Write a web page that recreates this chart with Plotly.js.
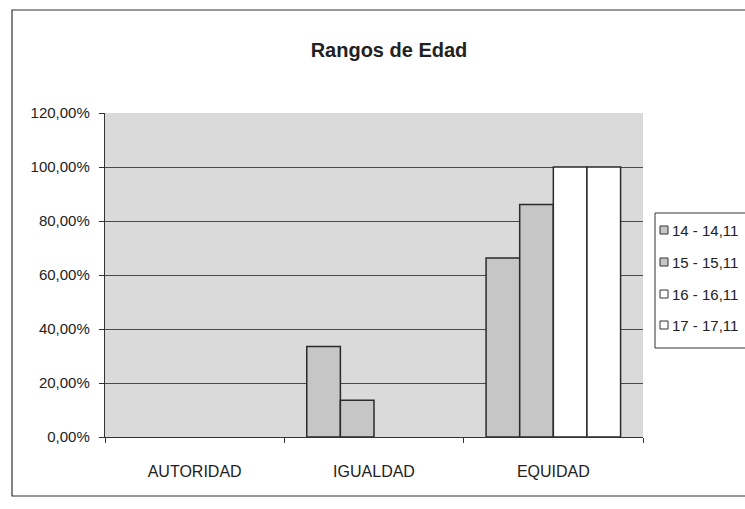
<!DOCTYPE html>
<html>
<head>
<meta charset="utf-8">
<script src="https://cdn.plot.ly/plotly-3.0.1.min.js"></script>
<style>html,body{margin:0;padding:0;background:#fff;}#chart{width:745px;height:509px;}</style>
</head>
<body>
<div id="chart"></div>
<script>
// ---- data ----
var categories = ["AUTORIDAD", "IGUALDAD", "EQUIDAD"];
var seriesNames = ["14 - 14,11", "15 - 15,11", "16 - 16,11", "17 - 17,11"];
var s14 = [0, 0.335, 0.663];
var s15 = [0, 0.136, 0.861];
var s16 = [0, 0, 1.0];
var s17 = [0, 0, 1.0];
var tickVals = [0, 0.2, 0.4, 0.6, 0.8, 1.0, 1.2];
var chartTitle = "Rangos de Edad";

// ---- styles ----
var fills = ["#c6c6c6", "#c6c6c6", "#ffffff", "#ffffff"];
var FONT = "Liberation Sans, Arial, sans-serif";
var W = 745, H = 509, ML = 105, MR = 102, MT = 113, MB = 72;
var PW = W - ML - MR, PH = H - MT - MB;
function px(x) { return (x - ML) / PW; }
function py(y) { return (H - MB - y) / PH; }

var allSeries = [s14, s15, s16, s17];
var traces = allSeries.map(function (vals, i) {
  return {
    type: "bar",
    name: seriesNames[i],
    x: categories,
    y: vals.map(function (v) { return v === 0 ? null : v; }),
    marker: { color: fills[i], line: { color: "#2a2a2a", width: 1.5 } },
    showlegend: false,
    hoverinfo: "skip"
  };
});

// manual legend built from series names
var shapes = [
  { type: "rect", xref: "paper", yref: "paper", x0: px(12), x1: px(800), y0: py(496), y1: py(10),
    line: { color: "#333", width: 1.2 }, fillcolor: "rgba(0,0,0,0)", layer: "below" },
  { type: "rect", xref: "paper", yref: "paper", x0: px(655), x1: px(800), y0: py(348), y1: py(213),
    line: { color: "#333", width: 1 }, fillcolor: "#ffffff" }
];
var annotations = [];
var itemY = [230, 262, 294, 325];
seriesNames.forEach(function (n, i) {
  shapes.push({ type: "rect", xref: "paper", yref: "paper",
    x0: px(660), x1: px(668), y0: py(itemY[i] + 4), y1: py(itemY[i] - 4),
    line: { color: "#333", width: 1 }, fillcolor: fills[i] });
  annotations.push({ xref: "paper", yref: "paper", x: px(670), y: py(itemY[i]),
    xanchor: "left", yanchor: "middle", showarrow: false, text: n,
    font: { family: FONT, size: 15, color: "#222" } });
});

var layout = {
  width: W, height: H,
  margin: { l: ML, r: MR, t: MT, b: MB, pad: 0 },
  paper_bgcolor: "#ffffff",
  plot_bgcolor: "#dadada",
  separators: ",.",
  barmode: "group",
  bargap: 0.25,
  bargroupgap: 0,
  title: { text: "<b>" + chartTitle + "</b>", x: px(389), xref: "paper", xanchor: "center",
           y: 1 - 50 / H, yref: "container", yanchor: "middle",
           font: { family: FONT, size: 20, color: "#222" } },
  xaxis: {
    type: "category",
    showline: true, linecolor: "#333", linewidth: 1.2,
    ticks: "outside", tickson: "boundaries", ticklen: 5, tickcolor: "#333",
    ticklabelstandoff: 20,
    tickfont: { family: FONT, size: 16, color: "#222" },
    showgrid: false, zeroline: false, fixedrange: true
  },
  yaxis: {
    range: [0, 1.2], tickvals: tickVals, tickformat: ".2%",
    showline: true, linecolor: "#333", linewidth: 1.2,
    ticks: "outside", ticklen: 5, tickcolor: "#333",
    ticklabelstandoff: 6,
    showgrid: true, gridcolor: "#4a4a4a", gridwidth: 1,
    zeroline: false,
    tickfont: { family: FONT, size: 15, color: "#222" },
    fixedrange: true
  },
  shapes: shapes,
  annotations: annotations
};

Plotly.newPlot("chart", traces, layout, { displayModeBar: false, staticPlot: true });
</script>
</body>
</html>
